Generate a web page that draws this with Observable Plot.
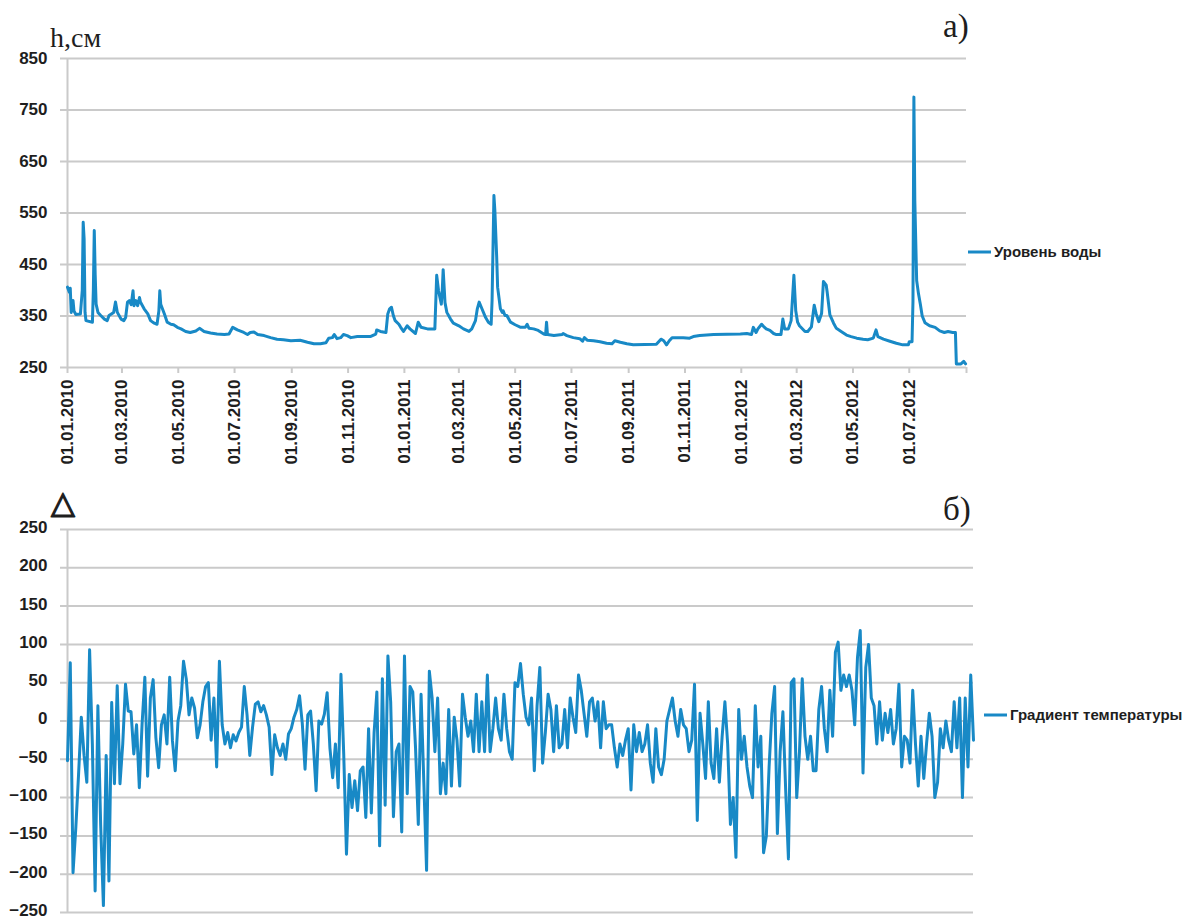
<!DOCTYPE html>
<html><head><meta charset="utf-8">
<script src="https://cdn.jsdelivr.net/npm/d3@7"></script>
<script src="https://cdn.jsdelivr.net/npm/@observablehq/plot@0.6"></script>
<style>
body{margin:0;background:#fff;}
#wrap{position:relative;width:1190px;height:920px;overflow:hidden;background:#fff;}
#wrap svg{position:absolute;left:0;}
</style></head><body><div id="wrap"></div>
<script>
// ---------- DATA ----------
// a) water level, day offset from 01.01.2010 and level (cm)
const levelDay = [0,2,3,4,6,7,9,14,16,17,18,19,20,27,28,29,30,31,33,36,40,43,45,50,52,54,58,61,63,65,67,69,71,72,74,76,78,79,83,87,90,94,97,99,100,101,105,108,112,115,119,123,128,133,139,143,148,155,162,170,175,179,184,191,195,198,202,206,213,220,227,234,242,252,260,267,274,280,283,287,289,292,296,299,303,307,314,321,328,334,335,339,345,347,349,351,353,355,359,
361,364,368,371,377,380,383,390,398,400,402,405,406,407,409,411,415,418,424,429,435,438,442,444,446,449,453,456,459,460,462,463,465,466,469,471,472,474,476,480,485,491,496,498,500,505,510,516,518,519,520,527,536,537,541,548,555,558,560,563,570,577,584,590,593,599,606,613,638,643,646,649,652,655,667,674,678,685,700,729,736,741,743,746,748,752,754,757,761,765,768,773,775,777,781,784,787,
789,791,793,799,802,806,809,811,814,817,819,822,823,826,830,833,839,844,849,855,862,867,873,876,878,884,891,898,905,911,912,915,916,917,918,920,922,924,926,929,934,940,945,950,954,959,962,963,968,971,973];
const levelValue = [406,396,404,357,380,360,353,354,400,532,500,357,341,338,400,516,430,373,357,351,344,341,351,357,377,357,344,341,347,377,380,372,399,370,380,370,386,377,364,354,341,336,334,360,399,373,354,338,334,333,328,325,320,318,321,326,320,317,315,314,315,328,323,318,314,318,319,314,312,308,305,304,302,303,299,296,296,298,307,308,314,306,308,314,312,308,310,310,310,315,323,320,318,354,364,367,351,341,334,
328,320,331,325,316,338,328,325,325,429,399,373,399,440,376,357,344,336,331,325,320,325,341,364,377,364,347,338,334,380,584,555,464,406,364,357,360,351,351,338,333,328,328,334,326,325,322,315,314,338,314,312,314,316,312,308,306,301,308,303,302,300,297,296,302,299,296,294,295,305,302,294,302,308,308,307,310,312,314,315,316,314,328,318,325,334,330,325,322,316,314,314,344,325,325,341,429,
360,338,331,320,320,329,371,355,339,355,417,410,397,352,336,326,319,313,310,307,305,304,307,323,310,305,301,297,294,294,300,300,378,775,574,419,393,373,350,337,331,328,321,318,320,318,318,257,257,262,257];
const levelTicks = [250,350,450,550,650,750,850];
const xTickLabels = ["01.01.2010","01.03.2010","01.05.2010","01.07.2010","01.09.2010","01.11.2010","01.01.2011","01.03.2011","01.05.2011","01.07.2011","01.09.2011","01.11.2011","01.01.2012","01.03.2012","01.05.2012","01.07.2012"];
const xEndLabel = "01.09.2012";

// б) temperature gradient, one value every 3 days
const gradientValue = [-52,76,-198,-140,-70,5,-45,-80,93,-30,-222,20,-135,-241,-45,-209,24,-82,46,-82,-30,48,13,12,-43,-5,-87,-4,57,-72,30,54,-22,-61,-5,8,-30,57,-26,-65,0,20,78,55,8,30,17,-22,-5,25,45,50,-25,30,-60,78,-5,-30,-15,-35,-18,-26,-15,-8,45,8,-45,-8,22,25,12,20,8,-8,-70,-18,-35,-45,-30,-50,-17,-10,5,15,33,-3,-63,8,13,-30,-91,0,-4,9,37,-35,-74,-30,-87,61,-43,-174,-70,-113,-78,-117,-65,-60,-126,-10,
-120,-15,38,-163,55,-110,85,25,-125,-40,-30,-145,85,-95,45,38,-35,-135,35,-80,-195,65,30,-40,30,-95,-55,-95,15,-85,5,-25,-85,35,5,-20,0,-40,35,-40,25,-40,60,-40,-10,30,-10,-25,35,-10,-40,-50,50,45,75,35,5,-5,30,-65,20,70,-55,-15,35,15,-40,20,-35,-30,15,-35,30,5,-15,60,40,10,-20,25,30,0,25,-35,25,-10,-5,-5,-35,-60,-30,-45,-25,-10,-90,-5,-40,-15,-40,-30,-5,-55,-80,-10,-60,-70,-50,0,
15,30,0,-20,15,-5,-10,-40,-25,48,-130,10,-30,-75,25,-55,-75,-10,-80,-20,25,-30,-135,-100,-178,15,-50,-20,-60,-85,-100,20,-60,-20,-172,-150,-60,10,45,-147,-40,12,-90,-180,50,55,-100,-40,55,-20,-50,-20,-65,-65,15,45,-10,-40,40,-20,90,103,40,60,45,60,40,-5,83,118,-68,70,100,30,20,-30,25,-25,10,-15,15,-30,-10,48,-60,-20,-25,-55,40,-30,-85,-20,-75,-30,10,-20,-100,-80,-10,-35,0,-25,-40,25,-35,30,-100,30,-60,60,-25];
const gradTicks = [-250,-200,-150,-100,-50,0,50,100,150,200,250];

const seriesA = "Уровень воды";
const seriesB = "Градиент температуры";

// ---------- DRAW ----------
const blue = "#1889c6";
const grid = "#cacaca";
const txt = "#1e1e1e";
const font = "'Liberation Sans', Arial, sans-serif";
const parse = d3.utcParse("%d.%m.%Y");
const fmt = d3.utcFormat("%d.%m.%Y");
const start = parse(xTickLabels[0]);
const end = parse(xEndLabel);
const toDate = d => new Date(+start + d * 864e5);
const level = levelDay.map((d, i) => ({date: toDate(d), value: levelValue[i]}));
const tickDates = xTickLabels.map(parse).concat([end]);

const wrap = document.getElementById("wrap");

const topChart = Plot.plot({
  width: 1190, height: 480,
  marginLeft: 67, marginRight: 224, marginTop: 58, marginBottom: 113,
  x: {type: "utc", domain: [start, end]},
  y: {domain: [250, 850]},
  style: {fontFamily: font, background: "transparent", overflow: "visible", color: txt},
  marks: [
    Plot.ruleY(levelTicks, {stroke: grid, strokeWidth: 2, insetLeft: -7}),
    Plot.ruleX([start], {stroke: grid, strokeWidth: 2}),
    Plot.axisX({ticks: tickDates, tickFormat: d => (+d === +end ? "" : fmt(d)), tickRotate: -90,
      tickSize: 6, tickPadding: 6, stroke: grid, strokeWidth: 2, fill: txt, fontSize: 17, fontWeight: "bold", label: null}),
    Plot.axisY({ticks: levelTicks, tickSize: 0, tickPadding: 20, fill: txt, fontSize: 17, fontWeight: "bold", label: null}),
    Plot.line(level, {x: "date", y: "value", stroke: blue, strokeWidth: 3, strokeLinejoin: "round"})
  ]
});
topChart.style.top = "0px";
wrap.appendChild(topChart);

const botChart = Plot.plot({
  width: 1190, height: 440,
  marginLeft: 67, marginRight: 217, marginTop: 49, marginBottom: 8,
  x: {domain: [0, gradientValue.length - 1], axis: null},
  y: {domain: [-250, 250]},
  style: {fontFamily: font, background: "transparent", overflow: "visible", color: txt},
  marks: [
    Plot.ruleY(gradTicks, {stroke: grid, strokeWidth: 2, insetLeft: -7}),
    Plot.ruleX([0], {stroke: grid, strokeWidth: 2}),
    Plot.axisY({ticks: gradTicks, tickSize: 0, tickPadding: 20, fill: txt, fontSize: 17, fontWeight: "bold", label: null, dy: -2}),
    Plot.line(gradientValue, {x: (d, i) => i, y: d => d, stroke: blue, strokeWidth: 3, strokeLinejoin: "round"})
  ]
});
botChart.style.top = "480px";
wrap.appendChild(botChart);

// overlay labels & legends
const ov = d3.select(wrap).append("svg").attr("width", 1190).attr("height", 920)
  .style("top", "0px").style("pointer-events", "none");
const serif = "'Liberation Serif', 'Times New Roman', serif";
ov.append("text").attr("x", 50).attr("y", 47).attr("font-family", serif).attr("font-size", 28).attr("fill", txt).text("h,см");
ov.append("text").attr("x", 943).attr("y", 37).attr("font-family", serif).attr("font-size", 33).attr("fill", txt).text("а)");
ov.append("text").attr("x", 943).attr("y", 520).attr("font-family", serif).attr("font-size", 33).attr("fill", txt).text("б)");
ov.append("text").attr("x", 51).attr("y", 513).attr("font-family", "'DejaVu Sans', sans-serif").attr("font-weight", "bold")
  .attr("font-size", 31).attr("fill", txt).attr("stroke", txt).attr("stroke-width", 1.3).attr("stroke-linejoin", "round").text("△");

function legend(x1, x2, y, label) {
  ov.append("line").attr("x1", x1).attr("x2", x2).attr("y1", y).attr("y2", y).attr("stroke", blue).attr("stroke-width", 3);
  ov.append("text").attr("x", x2 + 3).attr("y", y).attr("dy", "0.35em").attr("font-family", font)
    .attr("font-weight", "bold").attr("font-size", 15).attr("fill", txt).text(label);
}
legend(968, 991, 252, seriesA);
legend(984, 1007, 715, seriesB);
</script></body></html>
